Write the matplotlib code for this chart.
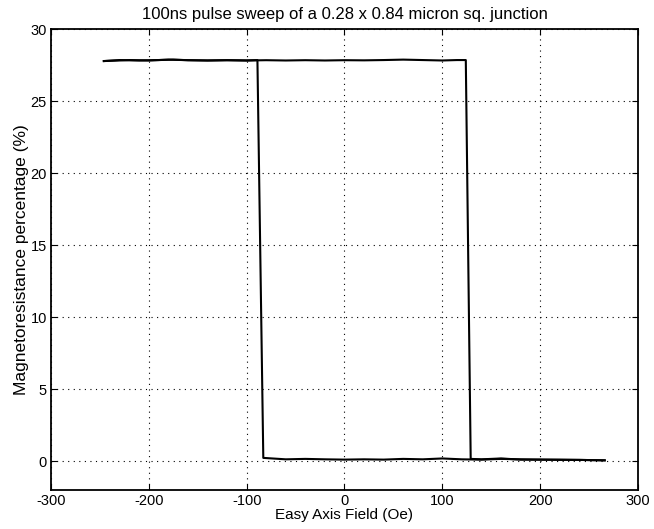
import matplotlib.pyplot as plt
import numpy as np

plt.rcParams['font.family'] = ['Liberation Sans', 'DejaVu Sans']
plt.rcParams['axes.unicode_minus'] = False

# upper branch: sweep from negative to positive field, switches at ~+125 Oe
up_field = [-246, -230, -210, -190, -175, -160, -140, -120, -100, -80, -60, -40,
            -20, 0, 20, 40, 60, 80, 100, 115, 124, 129, 140, 160, 180, 200, 220, 240, 266]
up_mr = [27.78, 27.85, 27.82, 27.85, 27.88, 27.84, 27.82, 27.84, 27.82, 27.84, 27.82, 27.84,
         27.82, 27.84, 27.83, 27.85, 27.88, 27.85, 27.82, 27.85, 27.85, 0.15, 0.12, 0.18, 0.1,
         0.1, 0.08, 0.08, 0.05]

# lower branch: sweep from positive back to negative, switches at ~-85 Oe
down_field = [266, 240, 220, 200, 180, 160, 140, 120, 100, 80, 60, 40, 20, 0,
              -20, -40, -60, -83, -89, -100, -120, -140, -160, -180, -200, -220, -246]
down_mr = [0.05, 0.08, 0.1, 0.1, 0.12, 0.15, 0.1, 0.12, 0.18, 0.12, 0.15, 0.1, 0.12, 0.1,
           0.12, 0.15, 0.12, 0.22, 27.85, 27.82, 27.84, 27.82, 27.84, 27.88, 27.82, 27.85, 27.78]

fig = plt.figure(figsize=(6.54, 5.29), dpi=100)
ax = fig.add_axes([0.078, 0.074, 0.8975, 0.871])

ax.plot(up_field, up_mr, color='black', linewidth=1.5)
ax.plot(down_field, down_mr, color='black', linewidth=1.5)

ax.set_xlim(-300, 300)
ax.set_ylim(-2, 30)
ax.set_xticks(np.arange(-300, 301, 100))
ax.set_yticks(np.arange(0, 31, 5))
ax.grid(True, color='black', linestyle=(0, (1, 4)), linewidth=0.8)
ax.tick_params(direction='in', top=True, right=True, length=4, labelsize=10.5, pad=3)
for s in ax.spines.values():
    s.set_linewidth(1.3)

ax.set_xlabel('Easy Axis Field (Oe)', fontsize=11, labelpad=0)
ax.set_ylabel('Magnetoresistance percentage (%)', fontsize=12.5, labelpad=1)
ax.set_title('100ns pulse sweep of a 0.28 x 0.84 micron sq. junction', fontsize=12, pad=7)

fig.savefig('out.png', dpi=100)
